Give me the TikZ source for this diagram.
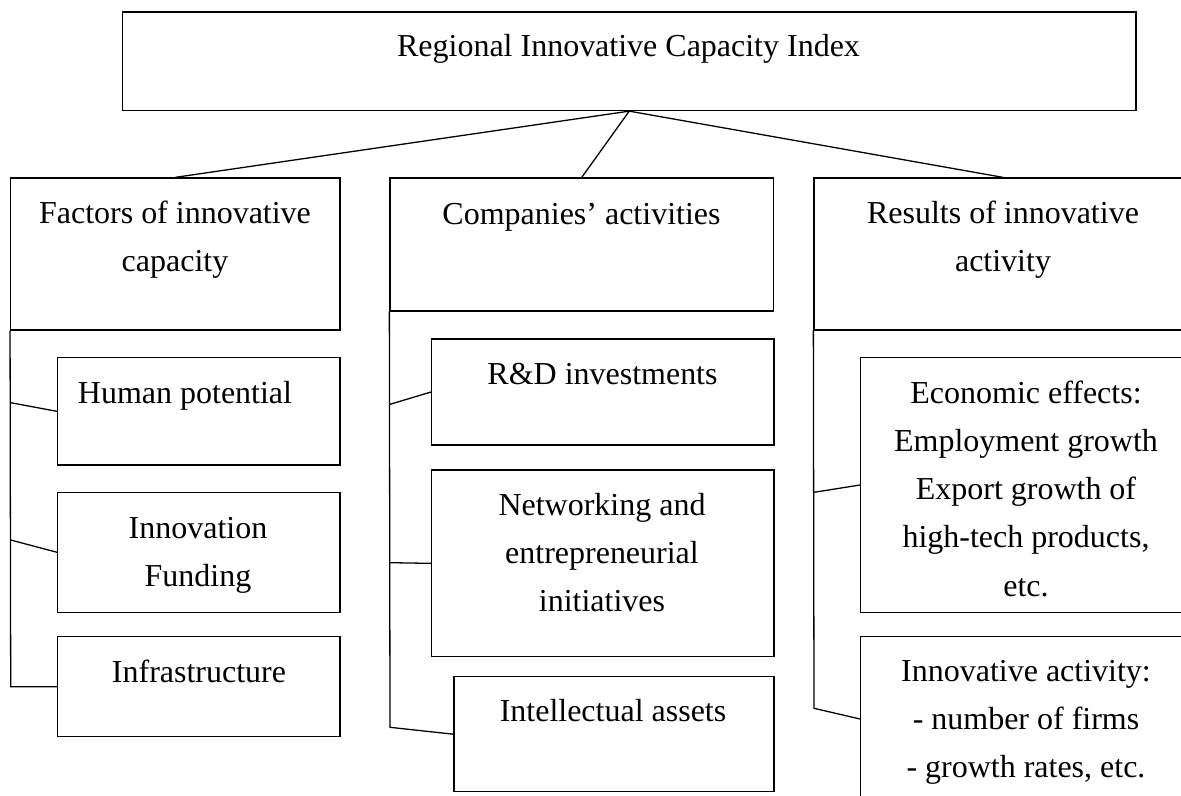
\documentclass[tikz,border=0pt]{standalone}
\usepackage{fontspec}
\setmainfont{Liberation Serif}
\usetikzlibrary{fit}

\begin{document}
\begin{tikzpicture}[x=0.03cm,y=-0.03cm,line width=1.1pt,
  box/.style={draw,inner sep=0pt},
  lbl/.style={anchor=base,align=center,inner sep=0pt,font=\fontsize{27.3}{41}\selectfont}]
\useasboundingbox (0,0) rectangle (1181,796);
\clip (0,0) rectangle (1181,796);

% index and the three groups
\node[box,fit={(122.5,12) (1136,110.5)}] (idx) {};
\node[box,fit={(10.7,178) (340,330)}] (fac) {};
\node[box,fit={(390,178) (773.5,311)}] (com) {};
\node[box,fit={(814,178) (1192,330)}] (res) {};

% sub-blocks
\node[box,fit={(57.7,357.7) (340,465)}] (hum) {};
\node[box,fit={(57.7,492.3) (340,612.3)}] (fund) {};
\node[box,fit={(57.7,636.7) (340,736.7)}] (infra) {};
\node[box,fit={(431.7,339) (774,445)}] (rnd) {};
\node[box,fit={(431.7,470) (774,656.7)}] (netw) {};
\node[box,fit={(454,676.7) (774,791.7)}] (ipr) {};
\node[box,fit={(860.7,357.7) (1195,612.3)}] (econ) {};
\node[box,fit={(860.7,636.7) (1195,801.3)}] (act) {};

% texts (base = last line)
\node[lbl] (tidx) at (628.5,57) {Regional Innovative Capacity Index};
\node[lbl] (tfac) at (175,272) {Factors of innovative\\capacity};
\node[lbl] (tcom) at (581.5,225) {Companies’ activities};
\node[lbl] (tres) at (1003,272) {Results of innovative\\activity};
\node[lbl] (thum) at (185,403) {Human potential};
\node[lbl] (tfund) at (198,586.7) {Innovation\\Funding};
\node[lbl] (tinfra) at (199,682.7) {Infrastructure};
\node[lbl] (trnd) at (602.5,384.3) {R\&D investments};
\node[lbl] (tnetw) at (602,611.7) {Networking and\\entrepreneurial\\initiatives};
\node[lbl] (tipr) at (613,721.7) {Intellectual assets};
\node[lbl] (tecon) at (1026,596) {Economic effects:\\Employment growth\\Export growth of\\high-tech products,\\etc.};
\node[lbl] (tact) at (1026,777.3) {Innovative activity:\\- number of firms\\- growth rates, etc.};

% bus points
\coordinate (f1) at (10.7,402.7);
\coordinate (f2) at (10.7,540);
\coordinate (f3) at (10.7,686.7);
\coordinate (c1) at (390,404.3);
\coordinate (c2) at (390,562.7);
\coordinate (c3) at (390,727.3);
\coordinate (r1) at (814,492.3);
\coordinate (r2) at (814,708.3);

% links
\draw (idx.south) -- (fac.north);
\draw (idx.south) -- (com.north);
\draw (idx.south) -- (res.north);

\draw (fac.south west) -- (f3) -- (infra.west);
\draw (f1) -- (hum.west);
\draw (f2) -- (fund.west);

\draw (com.south west) -- (c3) -- (ipr.west);
\draw (c1) -- (rnd.west);
\draw (c2) -- (netw.west);

\draw (res.south west) -- (r2) -- (act.west);
\draw (r1) -- (econ.west);
\end{tikzpicture}
\end{document}
